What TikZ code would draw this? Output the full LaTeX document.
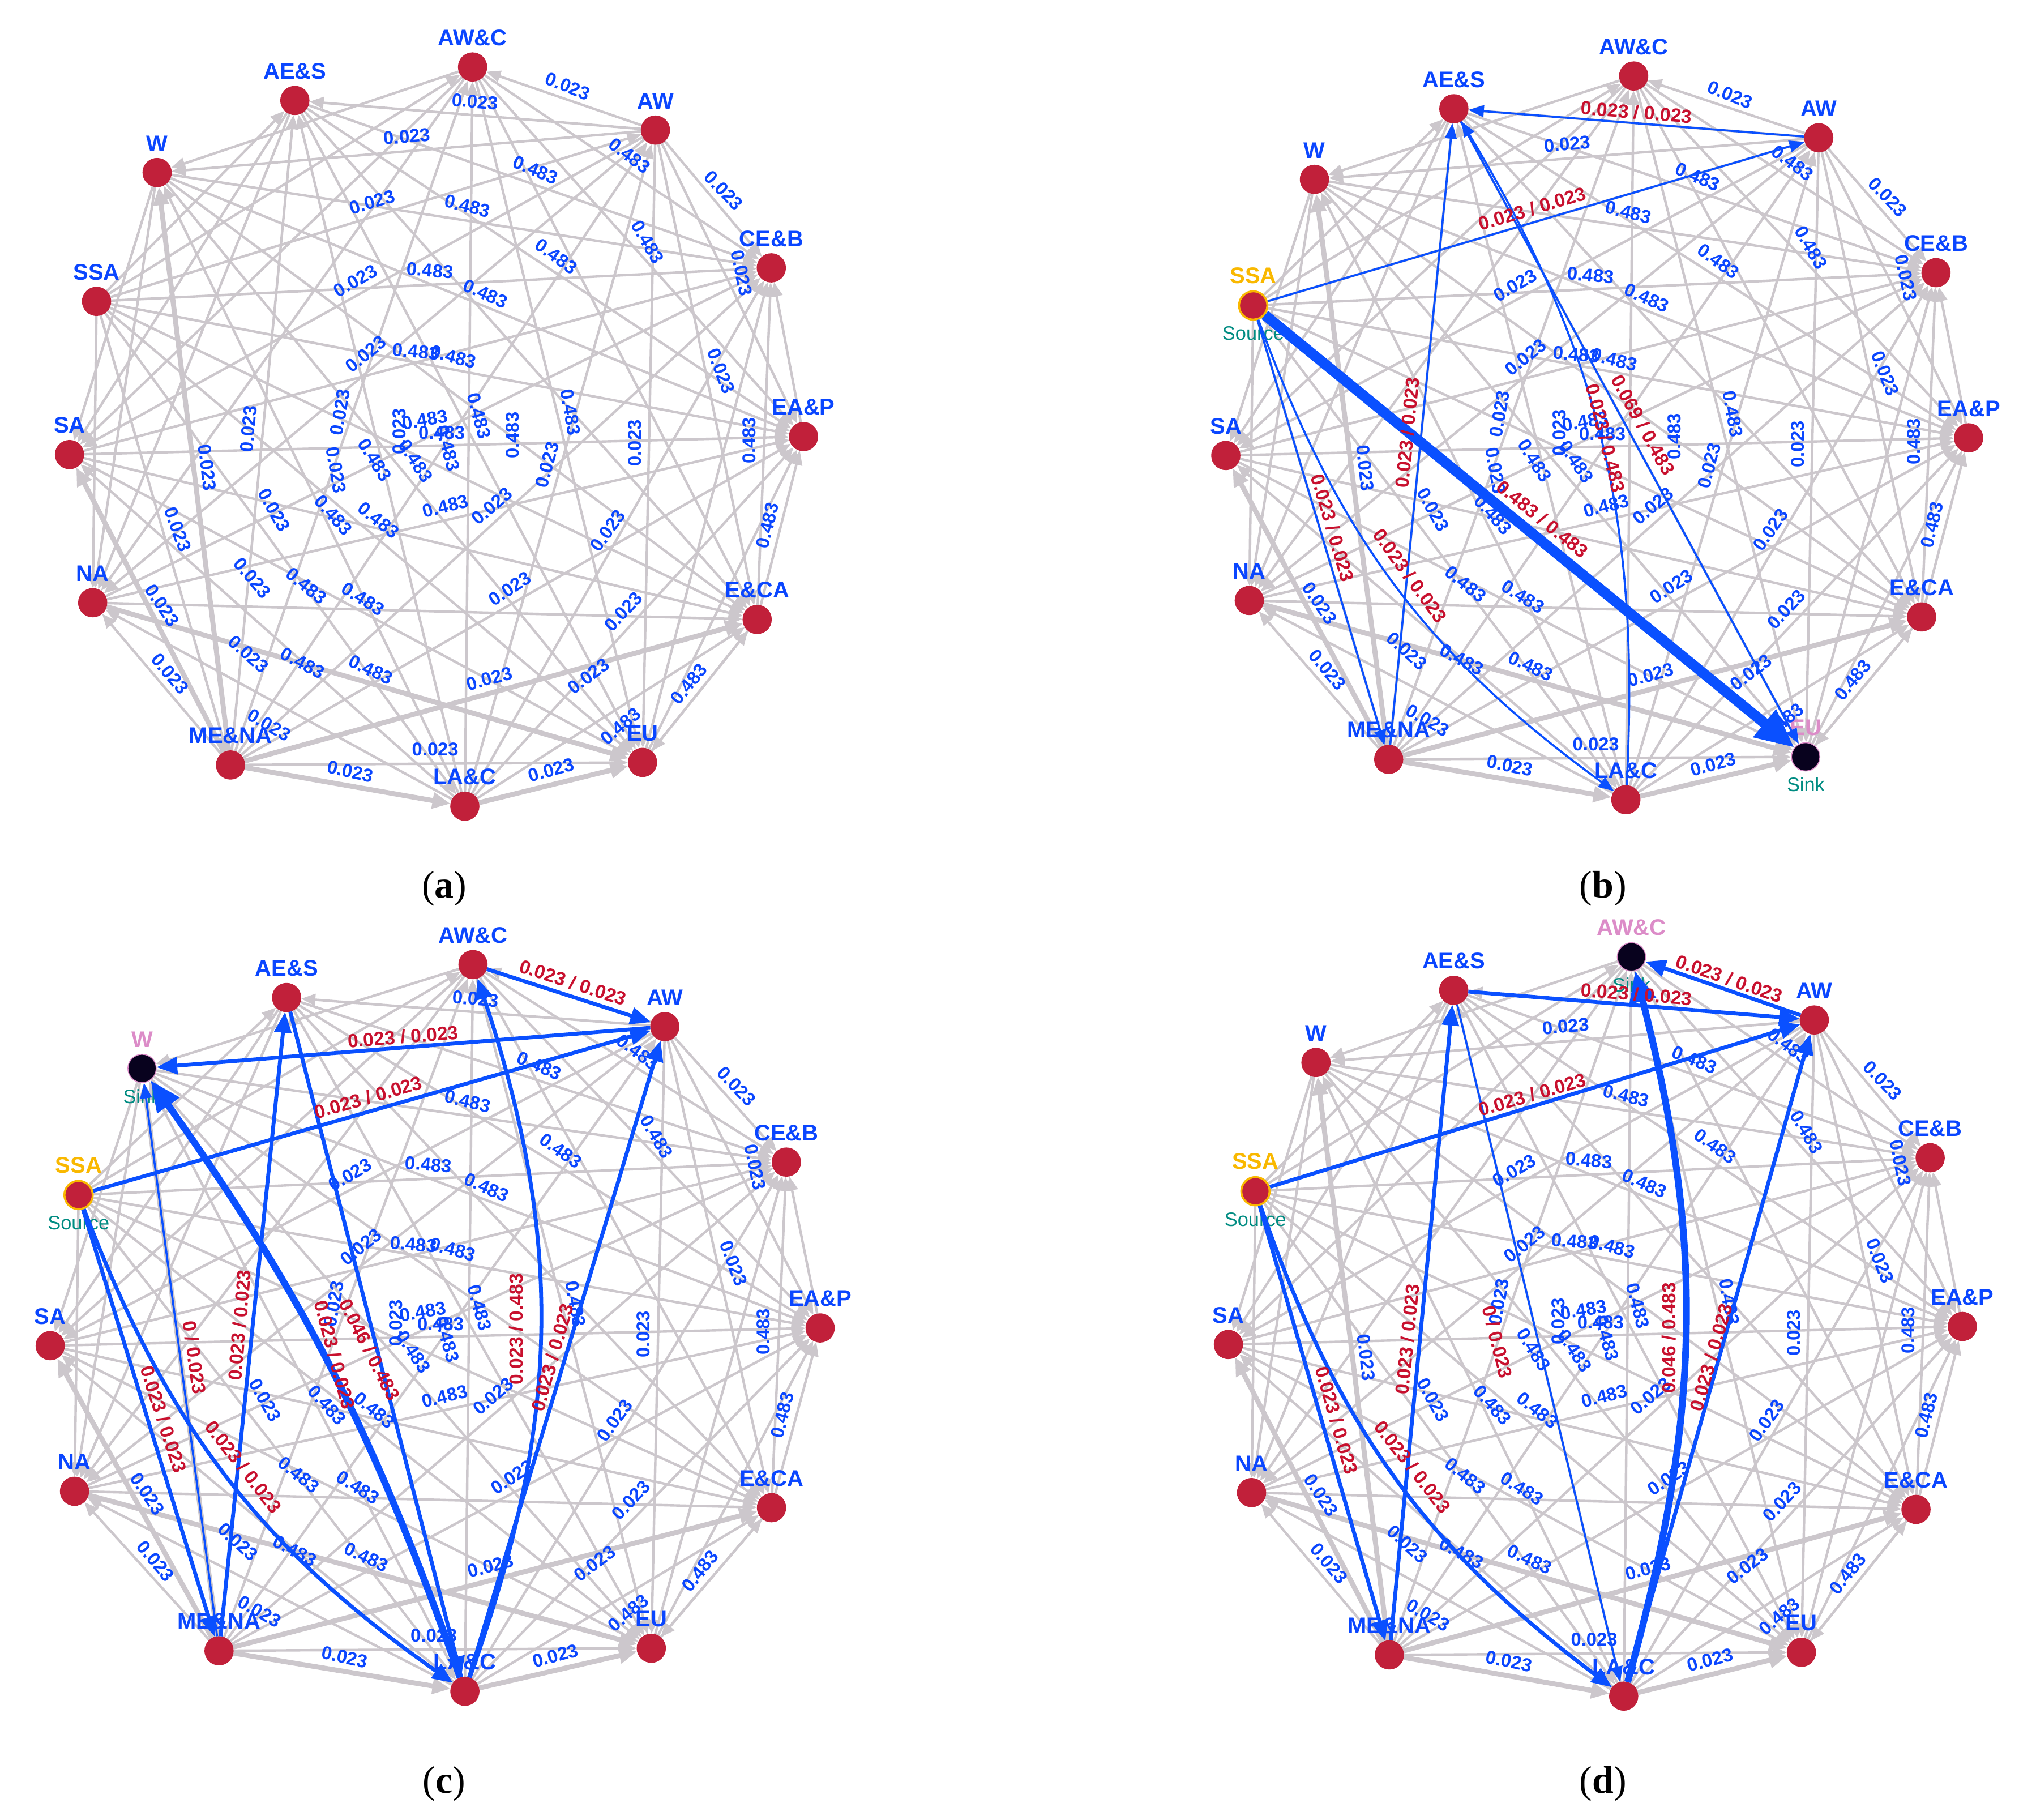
\documentclass[tikz,border=0pt]{standalone}
\usepackage{fontspec}
\setmainfont{Liberation Sans}
\newfontfamily\capfont{Liberation Serif}
\usetikzlibrary{arrows.meta}
\pgfdeclarelayer{bg}
\pgfsetlayers{bg,main}

\definecolor{edgegray}{HTML}{CCC7CC}
\definecolor{nodered}{HTML}{C1203A}
\definecolor{lblblue}{HTML}{0A46FF}
\definecolor{flowblue}{HTML}{0A50FF}
\definecolor{flowred}{HTML}{C8102E}
\definecolor{srcgold}{HTML}{F9B800}
\definecolor{tealc}{HTML}{008C82}
\definecolor{sinkpink}{HTML}{DC8CC8}
\definecolor{sinkdark}{HTML}{08021E}

\tikzset{
  gedge/.style={draw=edgegray, line width=0.55pt, -{Triangle[length=1.1mm,width=0.9mm]}},
  gheavy/.style={draw=edgegray, line width=1.1pt, -{Triangle[length=1.4mm,width=1.2mm]}},
  regnode/.style={circle, fill=nodered, draw=nodered, line width=0.2pt, minimum size=2.2mm, inner sep=0pt},
  sinknode/.style={circle, fill=sinkdark, draw=sinkpink, line width=0.2pt, minimum size=2.2mm, inner sep=0pt},
  srcnode/.style={circle, fill=nodered, draw=srcgold, line width=0.45pt, minimum size=2.2mm, inner sep=0pt},
  nlbl/.style={font=\fontsize{5}{6}\selectfont\bfseries, text=lblblue, inner sep=0.3mm, label distance=0.15mm},
  subl/.style={font=\fontsize{4.3}{5}\selectfont, text=tealc, inner sep=0.3mm, label distance=0.1mm},
  elab/.style={font=\fontsize{4.1}{5}\selectfont\bfseries, text=lblblue, inner sep=0pt},
  rlab/.style={font=\fontsize{4.2}{5}\selectfont\bfseries, text=flowred, inner sep=0pt},
  fthin/.style={draw=flowblue, line width=0.45pt, -{Triangle[length=1.2mm,width=0.9mm]}},
  fmed/.style={draw=flowblue, line width=0.85pt, -{Triangle[length=1.6mm,width=1.3mm]}},
  fthick/.style={draw=flowblue, line width=1.5pt, -{Triangle[length=2.4mm,width=2mm]}},
  fhuge/.style={draw=flowblue, line width=2.3pt, -{Triangle[length=3mm,width=2.6mm]}},
  capt/.style={font=\capfont\fontsize{8.5}{10}\selectfont, text=black, inner sep=0pt}
}

% excluded pairs and heavy pairs
\pgfkeyssetvalue{/ex/SSA-SA}{1}
\pgfkeyssetvalue{/ex/SSA-W}{1}
\pgfkeyssetvalue{/ex/AES-W}{1}
\pgfkeyssetvalue{/ex/AES-AWC}{1}
\pgfkeyssetvalue{/ex/SA-NA}{1}
\pgfkeyssetvalue{/hv/MENA-ECA}{1}
\pgfkeyssetvalue{/hv/NA-EU}{1}
\pgfkeyssetvalue{/hv/MENA-W}{1}
\pgfkeyssetvalue{/hv/MENA-LAC}{1}
\pgfkeyssetvalue{/hv/LAC-EU}{1}
\pgfkeyssetvalue{/hv/MENA-SA}{1}

\newcommand\skiplabels[2]{\foreach \s in {#2}{\expandafter\gdef\csname pgfk@/sk/#1/\s\endcsname{1}}}

\def\labellist{1/441/67/-22/0.023, 2/369/79/-5/0.023, 3/316/106/5/0.023, 4/416/132/-23/0.483,
 5/489/121/-37/0.483, 6/562/148/-46/0.023, 7/289/157/17/0.023, 8/363/160/-14/0.483,
 9/432/199/-36/0.483, 10/503/188/-60/0.483, 11/334/210/-5/0.483, 12/377/228/-24/0.483,
 13/576/212/-78/0.023, 14/276/218/30/0.023, 15/284/275/39/0.023, 16/323/273/-5/0.483,
 17/352/277/-15/0.483, 18/161/363/-83/0.023, 19/138/411/-70/0.023, 20/213/396/-61/0.023,
 21/126/470/-56/0.023, 22/132/523/-50/0.023, 23/196/449/-50/0.023, 24/238/455/-39/0.483,
 25/282/465/-32/0.483, 26/259/400/-48/0.483, 27/294/404/-39/0.483, 28/291/357/-58/0.483,
 29/323/358/-57/0.483, 30/310/335/90/0.023, 31/330/326/10/0.483, 32/261/365/-80/0.023,
 33/193/508/-42/0.023, 34/235/515/-28/0.483, 35/288/520/-25/0.483, 36/209/563/-30/0.023,
 37/272/599/-12/0.023, 38/338/582/0/0.023, 39/343/336/0/0.483, 40/372/323/-75/0.483,
 41/398/338/90/0.483, 42/443/320/-80/0.483, 43/425/361/75/0.023, 44/493/344/90/0.023,
 45/582/342/90/0.483, 46/346/393/14/0.483, 47/382/393/40/0.023, 48/472/412/54/0.023,
 49/596/408/76/0.483, 50/396/457/33/0.023, 51/484/475/47/0.023, 52/380/527/15/0.023,
 53/457/525/37/0.023, 54/535/531/51/0.483, 55/482/564/40/0.483, 57/428/598/15/0.023,
 59/560/288/-69/0.023, 60/264/320/80/0.023, 77/193/333/85/0.023, 81/348/348/-75/0.483}

\skiplabels{b}{2,7,19,23,77,27,40,81}
\skiplabels{c}{1,3,7,18,19,23,77,28,32,41,43}
\skiplabels{d}{1,2,7,19,23,77,32,41,43}

\newcommand\panelnodes[3]{%
  \foreach \nm/\x/\y/\lab in {AWC/367/52/{AW\&C},AES/229/78/{AE\&S},AW/509/101/AW,W/122/134/W,
      CEB/599/208/{CE\&B},SSA/75/234/SSA,SA/54/353/SA,EAP/624/339/{EA\&P},NA/72/468/NA,
      ECA/588/481/{E\&CA},MENA/179/594/{ME\&NA},EU/499/592/EU,LAC/361/626/{LA\&C}}{%
    \edef\cur{\nm}\edef\snk{#2}\edef\src{#3}%
    \ifx\cur\snk
      \node[sinknode, label={[nlbl,text=sinkpink]above:\lab}, label={[subl]below:Sink}] (#1-\nm) at (\x,\y) {};
    \else\ifx\cur\src
      \node[srcnode, label={[nlbl,text=srcgold]above:\lab}, label={[subl]below:Source}] (#1-\nm) at (\x,\y) {};
    \else
      \node[regnode, label={[nlbl]above:\lab}] (#1-\nm) at (\x,\y) {};
    \fi\fi
  }%
}

\newcommand\panellabels[1]{%
  \foreach \lid/\lx/\ly/\lr/\lv in \labellist {%
    \pgfkeysifdefined{/sk/#1/\lid}{}{\node[elab, rotate=\lr] (#1-l\lid) at (\lx,\ly) {\lv};}%
  }%
}

\newcommand\paneledges[1]{%
  \begin{pgfonlayer}{bg}
  \foreach \na [count=\i] in {SSA,MENA,LAC,AW,AES,AWC,W,SA,NA,EU,ECA,EAP,CEB}{%
    \foreach \nb [count=\j] in {SSA,MENA,LAC,AW,AES,AWC,W,SA,NA,EU,ECA,EAP,CEB}{%
      \ifnum\i<\j\relax
        \pgfkeysifdefined{/ex/\na-\nb}{}{%
          \pgfkeysifdefined{/hv/\na-\nb}{\draw[gheavy] (#1-\na) -- (#1-\nb);}{\draw[gedge] (#1-\na) -- (#1-\nb);}}%
      \fi
    }%
  }%
  \draw[gedge] (#1-ECA) -- (#1-EU);
  \end{pgfonlayer}
}

\begin{document}
\begin{tikzpicture}[x=0.1mm, y=-0.1mm]
\begin{pgfonlayer}{bg}
\fill[white] (0,0) rectangle (1568,1413);
\end{pgfonlayer}
\useasboundingbox (0,0) rectangle (1568,1413);

% ---------- panel a ----------
\begin{scope}
  \panelnodes{a}{none}{none}
  \panellabels{a}
\end{scope}
\paneledges{a}

% ---------- panel b ----------
\begin{scope}[shift={(897.35,8.1)}, xscale=1.012, yscale=0.979]
  \panelnodes{b}{EU}{SSA}
  \panellabels{b}
\end{scope}
\paneledges{b}
\draw[fhuge] (b-SSA) -- (b-EU);
\draw[fthin] (b-SSA) -- (b-AW);
\draw[fthin] (b-AW) -- (b-AES);
\draw[fthin] (b-AES) -- (b-EU);
\draw[fthin] (b-LAC) to[bend right=17] (b-AES);
\draw[fthin] (b-MENA) -- (b-AES);
\draw[fthin] (b-SSA) -- (b-MENA);
\draw[fthin] (b-SSA) to[bend right=17] (b-LAC);
\node[rlab, rotate=-39] (rb1) at (1198,403) {0.483 / 0.483};
\node[rlab, rotate=16.5] (rb2) at (1190,162) {0.023 / 0.023};
\node[rlab, rotate=-4.6] (rb3) at (1271,87) {0.023 / 0.023};
\node[rlab, rotate=-61] (rb4) at (1276,330) {0.069 / 0.483};
\node[rlab, rotate=-76] (rb5) at (1247,340) {0.023 / 0.483};
\node[rlab, rotate=84] (rb6) at (1093,336) {0.023 / 0.023};
\node[rlab, rotate=-73.6] (rb7) at (1035,410) {0.023 / 0.023};
\node[rlab, rotate=-54] (rb8) at (1095,447) {0.023 / 0.023};

% ---------- panel c ----------
\begin{scope}[shift={(-17.65,697.9)}, xscale=1.049, yscale=0.983]
  \panelnodes{c}{W}{SSA}
  \panellabels{c}
\end{scope}
\paneledges{c}
\draw[fmed] (c-AWC) -- (c-AW);
\draw[fmed] (c-AW) -- (c-W);
\draw[fmed] (c-SSA) -- (c-AW);
\draw[fthick] (c-LAC) to[bend right=8] (c-W);
\draw[fthin] (c-MENA) -- (c-W);
\draw[fmed] (c-MENA) -- (c-AES);
\draw[fmed] (c-SSA) -- (c-MENA);
\draw[fmed] (c-SSA) to[bend right=17] (c-LAC);
\draw[fmed] (c-AES) -- (c-LAC);
\draw[fmed] (c-LAC) to[bend right=19] (c-AWC);
\draw[fmed] (c-LAC) -- (c-AW);
\node[rlab, rotate=-18] (rc1) at (445,763) {0.023 / 0.023};
\node[rlab, rotate=4.5] (rc2) at (313,805) {0.023 / 0.023};
\node[rlab, rotate=16] (rc3) at (286,852) {0.023 / 0.023};
\node[rlab, rotate=-63] (rc4) at (287,1048) {0.046 / 0.483};
\node[rlab, rotate=-82] (rc5) at (151,1054) {0 / 0.023};
\node[rlab, rotate=85] (rc6) at (186,1029) {0.023 / 0.023};
\node[rlab, rotate=-72] (rc7) at (127,1102) {0.023 / 0.023};
\node[rlab, rotate=-52] (rc8) at (189,1139) {0.023 / 0.023};
\node[rlab, rotate=-75] (rc9) at (260,1052) {0.023 / 0.023};
\node[rlab, rotate=90] (rc10) at (401,1032) {0.023 / 0.483};
\node[rlab, rotate=74] (rc11) at (429,1054) {0.023 / 0.023};

% ---------- panel d ----------
\begin{scope}[shift={(900,691)}]
  \panelnodes{d}{AWC}{SSA}
  \panellabels{d}
\end{scope}
\paneledges{d}
\draw[fmed] (d-AW) -- (d-AWC);
\draw[fmed] (d-AES) -- (d-AW);
\draw[fmed] (d-SSA) -- (d-AW);
\draw[fmed] (d-MENA) -- (d-AES);
\draw[fmed] (d-SSA) -- (d-MENA);
\draw[fmed] (d-SSA) to[bend right=17] (d-LAC);
\draw[fthin] (d-AES) -- (d-LAC);
\draw[fthick] (d-LAC) to[bend right=15] (d-AWC);
\draw[fmed] (d-LAC) -- (d-AW);
\node[rlab, rotate=-19] (rd1) at (1343,760) {0.023 / 0.023};
\node[rlab, rotate=-4.7] (rd2) at (1271,772) {0.023 / 0.023};
\node[rlab, rotate=16.3] (rd3) at (1190,850) {0.023 / 0.023};
\node[rlab, rotate=84] (rd4) at (1093,1040) {0.023 / 0.023};
\node[rlab, rotate=-74] (rd5) at (1038,1103) {0.023 / 0.023};
\node[rlab, rotate=-52] (rd6) at (1097,1139) {0.023 / 0.023};
\node[rlab, rotate=-76] (rd7) at (1163,1042) {0 / 0.023};
\node[rlab, rotate=90] (rd8) at (1296,1039) {0.046 / 0.483};
\node[rlab, rotate=74] (rd9) at (1329,1054) {0.023 / 0.023};

% ---------- captions ----------
\node[capt] (capa) at (345,690) {(\textbf{a})};
\node[capt] (capb) at (1245,690) {(\textbf{b})};
\node[capt] (capc) at (345,1385) {(\textbf{c})};
\node[capt] (capd) at (1245,1385) {(\textbf{d})};
\end{tikzpicture}
\end{document}
